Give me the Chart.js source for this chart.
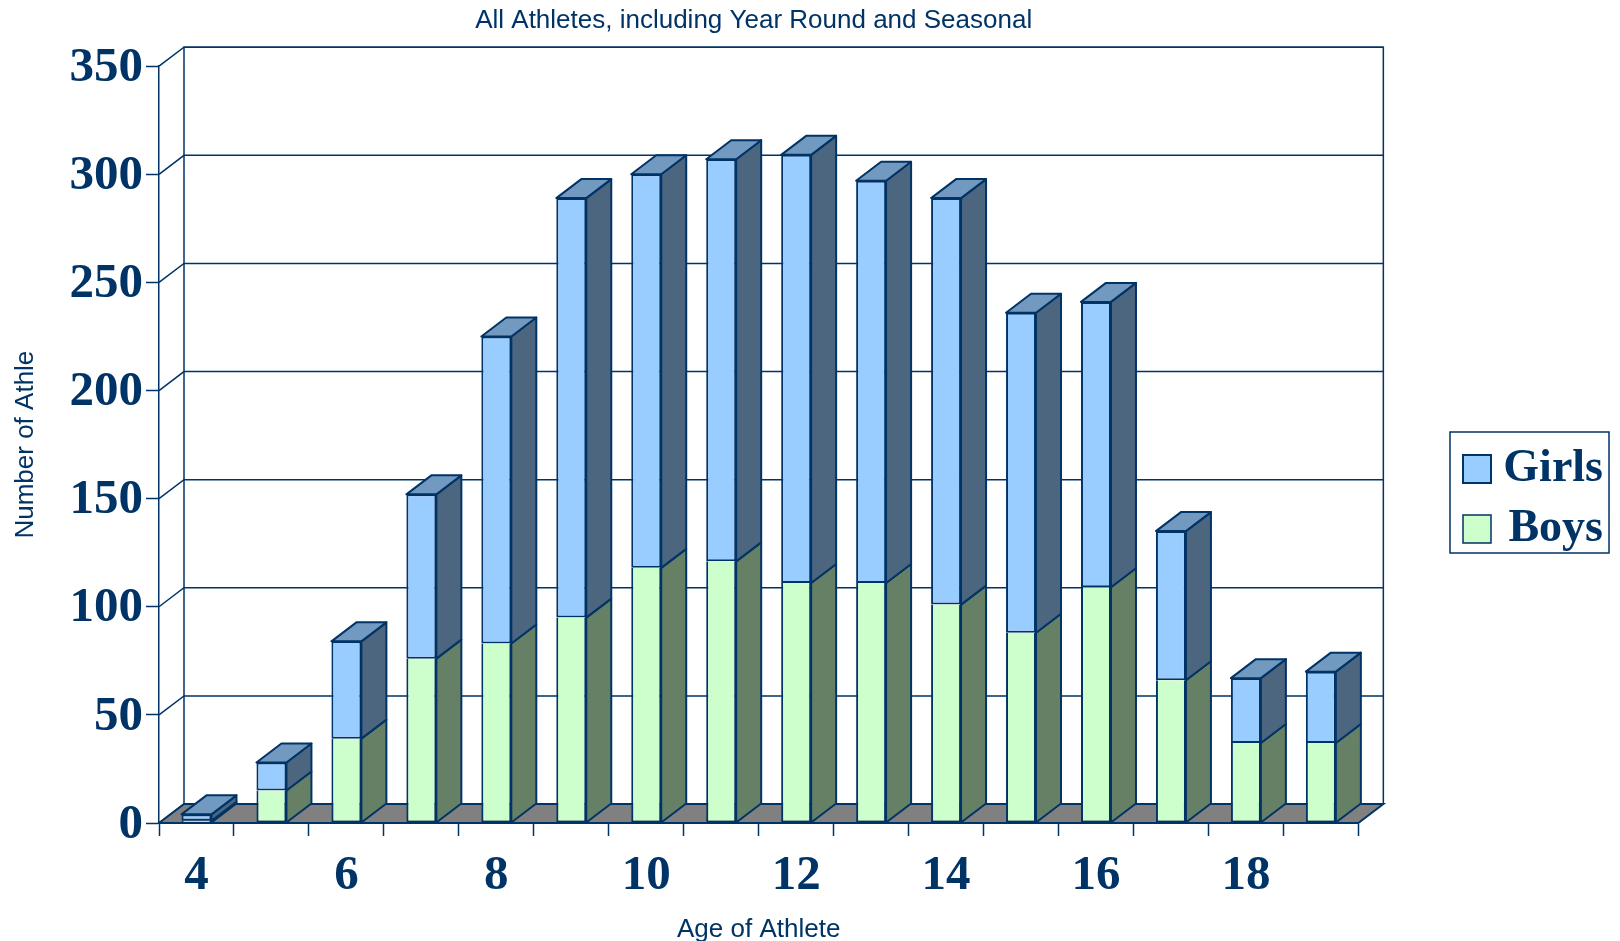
<!DOCTYPE html>
<html>
<head>
<meta charset="utf-8">
<title>All Athletes</title>
<script src="https://cdn.jsdelivr.net/npm/chart.js@4"></script>
<style>
  html, body { margin: 0; padding: 0; background: #fff; }
  #wrap { width: 1620px; height: 941px; }
</style>
</head>
<body>
<div id="wrap"><canvas id="athletes"></canvas></div>
<script>
const ages = [4, 5, 6, 7, 8, 9, 10, 11, 12, 13, 14, 15, 16, 17, 18, 19];
const boys = [1, 15, 39, 76, 83, 95, 118, 121, 111, 111, 101, 88, 109, 66, 37, 37];
const girls = [3, 13, 45, 76, 142, 194, 182, 186, 198, 186, 188, 148, 132, 69, 30, 33];

const navy = '#003366';
const depthX = 25;
const depthY = 19;

// darker shades for the bar sides and tops
const boxShades = {
  Boys: { side: '#668066', top: '#99bf99' },
  Girls: { side: '#4c6680', top: '#7299bf' }
};

function poly(ctx, pts, fill) {
  ctx.beginPath();
  pts.forEach((p, i) => (i ? ctx.lineTo(p[0], p[1]) : ctx.moveTo(p[0], p[1])));
  ctx.closePath();
  if (fill) {
    ctx.fillStyle = fill;
    ctx.fill();
  }
  ctx.stroke();
}

// walls, floor and extruded bars
const depthPlugin = {
  id: 'depth',
  afterLayout(chart) {
    // legend sits further right than the layout would put it
    chart.legend.left = 1449;
    chart.legend.right = 1603;
    chart.legend.top = 432;
    chart.titleBlock.left -= 5;
    chart.titleBlock.right -= 5;
  },
  beforeDraw(chart) {
    // nudge the value labels down so the digits centre on their ticks
    chart.scales.y.getLabelItems().forEach(item => { item.options.translation[1] += 2; });
  },
  beforeDatasetsDraw(chart) {
    const { ctx, chartArea: a, scales: { y } } = chart;
    ctx.save();
    ctx.strokeStyle = navy;
    ctx.lineWidth = 1.5;
    y.ticks.forEach(t => {
      const py = y.getPixelForValue(t.value);
      ctx.beginPath();
      ctx.moveTo(a.left, py);
      ctx.lineTo(a.left + depthX, py - depthY);
      ctx.lineTo(a.right + depthX, py - depthY);
      ctx.stroke();
    });
    ctx.beginPath();
    ctx.moveTo(a.left + depthX, a.bottom - depthY);
    ctx.lineTo(a.left + depthX, a.top - depthY);
    ctx.lineTo(a.right + depthX, a.top - depthY);
    ctx.lineTo(a.right + depthX, a.bottom - depthY);
    ctx.stroke();
    ctx.lineWidth = 2;
    poly(ctx, [
      [a.left, a.bottom],
      [a.left + depthX, a.bottom - depthY],
      [a.right + depthX, a.bottom - depthY],
      [a.right, a.bottom]
    ], '#808080');
    ctx.restore();
  },
  afterDatasetsDraw(chart) {
    const ctx = chart.ctx;
    ctx.save();
    ctx.strokeStyle = navy;
    ctx.lineWidth = 2;
    ctx.lineJoin = 'round';
    chart.data.datasets.forEach((ds, i) => {
      const shade = boxShades[ds.label];
      const last = i === chart.data.datasets.length - 1;
      chart.getDatasetMeta(i).data.forEach(bar => {
        const r = bar.x + bar.width / 2;
        const l = bar.x - bar.width / 2;
        poly(ctx, [
          [r, bar.y],
          [r + depthX, bar.y - depthY],
          [r + depthX, bar.base - depthY],
          [r, bar.base]
        ], shade.side);
        if (last) {
          poly(ctx, [
            [l, bar.y],
            [l + depthX, bar.y - depthY],
            [r + depthX, bar.y - depthY],
            [r, bar.y]
          ], shade.top);
        }
      });
    });
    ctx.restore();
  },
  afterDraw(chart) {
    const { ctx } = chart;
    ctx.save();
    ctx.strokeStyle = navy;
    ctx.lineWidth = 1.5;
    ctx.strokeRect(1450, 432, 159, 121);
    ctx.restore();
  }
};

new Chart(document.getElementById('athletes'), {
  type: 'bar',
  data: {
    labels: ages,
    datasets: [
      // the girls bar above carries the shared edge, so no top border here
      { label: 'Boys', data: boys, backgroundColor: '#ccffcc', borderColor: navy, borderWidth: { top: 0, right: 2, bottom: 2, left: 2 }, borderSkipped: false },
      { label: 'Girls', data: girls, backgroundColor: '#99ccff', borderColor: navy, borderWidth: 2, borderSkipped: false }
    ]
  },
  options: {
    responsive: true,
    maintainAspectRatio: false,
    animation: false,
    layout: { autoPadding: false, padding: { right: 87 } },
    barPercentage: 1,
    categoryPercentage: 0.4,
    scales: {
      x: {
        stacked: true,
        afterFit(scale) { scale.height = 118; },
        border: { color: navy, width: 2 },
        grid: { drawOnChartArea: false, color: navy, tickLength: 13, tickWidth: 1.5 },
        title: {
          display: true,
          text: 'Age of Athlete',
          color: navy,
          font: { family: 'Liberation Sans', size: 26 },
          padding: { top: 14, bottom: -4 }
        },
        ticks: {
          autoSkip: false,
          maxRotation: 0,
          color: navy,
          padding: 11,
          font: { family: 'Liberation Serif', weight: 'bold', size: 49 },
          callback(value, index) { return index % 2 === 0 ? ages[index] : ''; }
        }
      },
      y: {
        stacked: true,
        min: 0,
        max: 350,
        afterFit(scale) { scale.width = 159; },
        border: { color: navy, width: 1.5 },
        grid: { drawOnChartArea: false, color: navy, tickLength: 13, tickWidth: 1.5 },
        title: {
          display: true,
          text: 'Number of Athle',
          color: navy,
          font: { family: 'Liberation Sans', size: 26 },
          padding: { top: 10, bottom: 0 }
        },
        ticks: {
          stepSize: 50,
          color: navy,
          padding: 3,
          font: { family: 'Liberation Serif', weight: 'bold', size: 49 }
        }
      }
    },
    plugins: {
      title: {
        display: true,
        fullSize: false,
        text: 'All Athletes, including Year Round and Seasonal',
        color: navy,
        font: { family: 'Liberation Sans', size: 26, weight: 'normal' },
        padding: { top: 5, bottom: 30 }
      },
      legend: {
        position: 'right',
        align: 'start',
        reverse: true,
        labels: {
          boxWidth: 28,
          boxHeight: 28,
          padding: 14,
          textAlign: 'right',
          color: navy,
          font: { family: 'Liberation Serif', weight: 'bold', size: 46 }
        }
      },
      tooltip: { enabled: false }
    }
  },
  plugins: [depthPlugin]
});
</script>
</body>
</html>
